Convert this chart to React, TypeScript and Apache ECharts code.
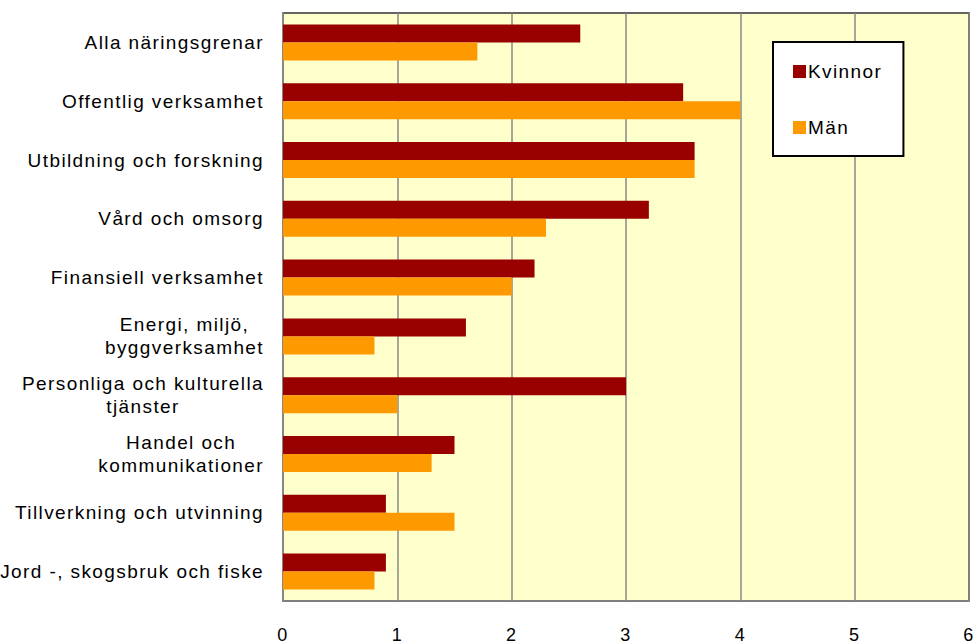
import React, { useEffect, useRef } from "react";
import * as echarts from "echarts";

const categories: string[] = [
  "Alla näringsgrenar",
  "Offentlig verksamhet",
  "Utbildning och forskning",
  "Vård och omsorg",
  "Finansiell verksamhet",
  "Energi, miljö,\nbyggverksamhet",
  "Personliga och kulturella\ntjänster",
  "Handel och\nkommunikationer",
  "Tillverkning och utvinning",
  "Jord -, skogsbruk och fiske",
];
const kvinnor: number[] = [2.6, 3.5, 3.6, 3.2, 2.2, 1.6, 3.0, 1.5, 0.9, 0.9];
const man: number[] = [1.7, 4.0, 3.6, 2.3, 2.0, 0.8, 1.0, 1.3, 1.5, 0.8];
const seriesNames: string[] = ["Kvinnor", "Män"];
const xMin = 0;
const xMax = 6;
const xInterval = 1;

const FONT = '"Liberation Sans", Arial, sans-serif';
const LS = 1.4;
const LABEL_SIZE = 19;

function measure(text: string, size: number): number {
  const c = document.createElement("canvas");
  const ctx = c.getContext("2d");
  if (!ctx) return text.length * size * 0.55;
  ctx.font = `${size}px "Liberation Sans"`;
  return ctx.measureText(text).width + text.length * LS;
}

export default function App() {
  const ref = useRef<HTMLDivElement>(null);
  useEffect(() => {
    if (!ref.current) return;
    const chart = echarts.init(ref.current, undefined, { renderer: "svg" });
    const rich: Record<string, any> = {};
    categories.forEach((c, i) => {
      if (c.includes("\n")) {
        const w = Math.max(...c.split("\n").map((l) => measure(l, LABEL_SIZE)));
        rich["c" + i] = {
          width: w,
          align: "center",
          fontSize: LABEL_SIZE,
          fontFamily: FONT,
          color: "#000",
          lineHeight: 23,
        };
      }
    });
    chart.setOption({
      animation: false,
      backgroundColor: "#ffffff",
      textStyle: { fontFamily: FONT },
      grid: {
        left: 283,
        right: 5,
        top: 13,
        bottom: 42,
        show: true,
        backgroundColor: "#FFFFCC",
        borderColor: "#333333",
        borderWidth: 1.5,
        containLabel: false,
      },
      legend: {
        orient: "vertical",
        left: 773,
        top: 42,
        data: seriesNames,
        backgroundColor: "#ffffff",
        borderColor: "#000000",
        borderWidth: 2,
        padding: [20, 31, 19, 20],
        itemGap: 37,
        itemWidth: 13,
        itemHeight: 13,
        icon: "rect",
        textStyle: { fontSize: LABEL_SIZE, fontFamily: FONT, color: "#000", padding: [0, 0, 0, -3] },
      },
      xAxis: {
        type: "value",
        min: xMin,
        max: xMax,
        interval: xInterval,
        axisLine: { show: true, lineStyle: { color: "#888888", width: 1.5 } },
        axisTick: { show: false },
        splitLine: { show: true, lineStyle: { color: "#888888", width: 1.5 } },
        axisLabel: { fontSize: 18, color: "#000", margin: 25, fontFamily: FONT },
      },
      yAxis: {
        type: "category",
        data: categories,
        inverse: true,
        axisLine: { show: true, lineStyle: { color: "#888888", width: 1.5 } },
        axisTick: { show: false },
        axisLabel: {
          fontSize: LABEL_SIZE,
          color: "#000",
          margin: 19,
          fontFamily: FONT,
          lineHeight: 23,
          rich,
          formatter: (value: string, idx: number) => {
            if (value.includes("\n")) {
              return value
                .split("\n")
                .map((l) => `{c${idx}|${l}}`)
                .join("\n");
            }
            return value;
          },
        },
      },
      series: [
        {
          name: seriesNames[0],
          type: "bar",
          data: kvinnor,
          barWidth: 18,
          barGap: "0%",
          itemStyle: { color: "#990000" },
        },
        {
          name: seriesNames[1],
          type: "bar",
          data: man,
          barWidth: 18,
          barGap: "0%",
          itemStyle: { color: "#FF9900" },
        },
      ],
    });
    return () => chart.dispose();
  }, []);
  return (
    <div style={{ position: "absolute", left: 0, top: 0, width: 977, height: 644, background: "#fff" }}>
      <style>{`.chartbox text { letter-spacing: ${LS}px; }`}</style>
      <div className="chartbox" ref={ref} style={{ width: 977, height: 644 }} />
    </div>
  );
}
